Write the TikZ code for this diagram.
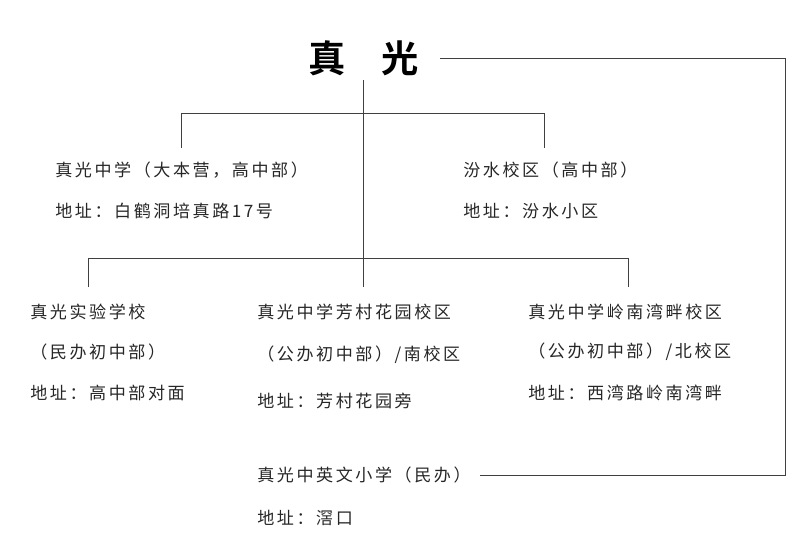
\documentclass[tikz,border=0pt]{standalone}
\usepackage{fontspec}
\setmainfont{Noto Sans CJK SC}[LetterSpace=15]
\newfontfamily\titlefont{Noto Sans CJK SC}[BoldFont=* Bold]
\begin{document}
\begin{tikzpicture}[x=0.75pt,y=-0.75pt,
  lbl/.style={anchor=west,inner sep=0pt,font=\fontsize{12.8}{14}\selectfont,text=black!85},
  ln/.style={draw=black!75,line width=0.7pt}]
\useasboundingbox (0,0) rectangle (805,552);
\node[inner sep=0pt,font=\titlefont\bfseries\fontsize{28}{30}\selectfont] (t) at (364,58) {真\hspace{0.95em}光};
\node[lbl] (a1) at (55,170) {真光中学（大本营，高中部）};
\node[lbl] (a2) at (55,211) {地址：白鹤洞培真路17号};
\node[lbl] (b1) at (463,170) {汾水校区（高中部）};
\node[lbl] (b2) at (463,211) {地址：汾水小区};
\node[lbl] (c1) at (30,312) {真光实验学校};
\node[lbl] (c2) at (30,352) {（民办初中部）};
\node[lbl] (c3) at (30,393) {地址：高中部对面};
\node[lbl] (d1) at (257,312) {真光中学芳村花园校区};
\node[lbl] (d2) at (257,355) {（公办初中部）/南校区};
\node[lbl] (d3) at (257,401) {地址：芳村花园旁};
\node[lbl] (e1) at (528,312) {真光中学岭南湾畔校区};
\node[lbl] (e2) at (528,352) {（公办初中部）/北校区};
\node[lbl] (e3) at (528,393) {地址：西湾路岭南湾畔};
\node[lbl] (f1) at (257,475) {真光中英文小学（民办）};
\node[lbl] (f2) at (257,518) {地址：滘口};
\coordinate (top) at (363,80);
\coordinate (mid) at (363,287);
\draw[ln] (top) -- (mid);
\draw[ln] (181,148) -- (181,113) -- (544,113) -- (544,148);
\draw[ln] (88,287) -- (88,258) -- (628,258) -- (628,287);
\draw[ln] (440,58) -- (785,58) -- (785,475) -- (480,475);
\end{tikzpicture}
\end{document}
